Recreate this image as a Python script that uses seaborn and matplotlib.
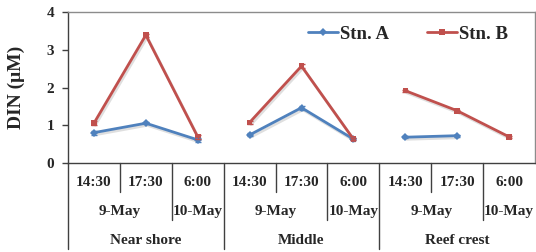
import matplotlib
matplotlib.use("Agg")
import matplotlib.pyplot as plt
import matplotlib.patheffects as pe
from matplotlib.lines import Line2D
import matplotlib.transforms as mtransforms
import seaborn as sns
import pandas as pd
import numpy as np

# --- data ---
sites = ["Near shore", "Middle", "Reef crest"]
dates = ["9-May", "9-May", "10-May"]
times = ["14:30", "17:30", "6:00"]

stn_a = [0.81, 1.06, 0.62, 0.75, 1.47, 0.64, 0.69, 0.73, np.nan]
stn_b = [1.06, 3.39, 0.70, 1.08, 2.57, 0.64, 1.92, 1.39, 0.70]
err_a = [0.05, 0.03, 0.05, 0.04, 0.05, 0.03, 0.03, 0.03, np.nan]
err_b = [0.06, 0.04, 0.05, 0.05, 0.05, 0.03, 0.03, 0.03, 0.03]

colors = {"Stn. A": "#4F81BD", "Stn. B": "#C0504D"}
markers = {"Stn. A": "D", "Stn. B": "s"}

rows = []
for st, vals, errs in [("Stn. A", stn_a, err_a), ("Stn. B", stn_b, err_b)]:
    for k, (v, e) in enumerate(zip(vals, errs)):
        rows.append({"site": sites[k // 3], "time": times[k % 3], "pos": k,
                     "station": st, "DIN": v, "err": e})
df = pd.DataFrame(rows).dropna()

sns.set_style("white")
plt.rcParams["font.family"] = ["Liberation Serif", "DejaVu Serif"]
plt.rcParams["font.weight"] = "bold"

fig = plt.figure(figsize=(5.36, 2.52), dpi=100)
W, H = 536, 252
x0, x1, y0, y1 = 68, 535, 163.3, 12
ax = fig.add_axes([x0 / W, 1 - y0 / H, (x1 - x0) / W, (y0 - y1) / H])

shadow = [pe.SimpleLineShadow(offset=(1, -1.5), alpha=0.25, shadow_color="gray"), pe.Normal()]
sns.lineplot(data=df, x="pos", y="DIN", hue="station", style="station", units="site",
             estimator=None, markers=markers, dashes=False, palette=colors,
             linewidth=2, markersize=4, markeredgewidth=0, legend=False, ax=ax,
             path_effects=shadow)

for st in ["Stn. A", "Stn. B"]:
    sub = df[df["station"] == st]
    ax.errorbar(sub["pos"], sub["DIN"], yerr=sub["err"], fmt="none",
                ecolor=colors[st], elinewidth=1, capsize=2.5, capthick=1)

ax.set_xlim(-0.5, 8.5)
ax.set_ylim(0, 4)
ax.set_yticks([0, 1, 2, 3, 4])
ax.set_xticks([])
ax.set_xlabel("")
ax.tick_params(axis="y", which="both", left=True, direction="out", length=4,
               width=1, labelsize=11, pad=6, color="#404040")
for lbl in ax.get_yticklabels():
    lbl.set_fontweight("bold")
ax.set_ylabel("DIN (\u03bcM)", fontsize=14, fontweight="bold")
ax.yaxis.set_label_coords(-0.092, 0.5)

for s in ["left", "bottom"]:
    ax.spines[s].set_color("#404040")
    ax.spines[s].set_linewidth(1)
for s in ["top", "right"]:
    ax.spines[s].set_color("#8C8C8C")
    ax.spines[s].set_linewidth(1)

# --- multi-level category axis ---
ph = y0 - y1
def fy(px):
    return -(px - y0) / ph

trans = mtransforms.blended_transform_factory(ax.transData, ax.transAxes)
for k in range(9):
    ax.text(k, fy(182), times[k % 3], transform=trans, ha="center", va="center",
            fontsize=11, fontweight="bold")
for g, site in enumerate(sites):
    ax.text(g * 3 + 0.5, fy(212), dates[0], transform=trans, ha="center", va="center",
            fontsize=11, fontweight="bold")
    ax.text(g * 3 + 2, fy(212), dates[2], transform=trans, ha="center", va="center",
            fontsize=11, fontweight="bold")
    ax.text(g * 3 + 1, fy(240), site, transform=trans, ha="center", va="center",
            fontsize=11, fontweight="bold")

for k in range(9):
    xb = k - 0.5
    if k % 3 == 0:
        bottom = fy(249)
    elif k % 3 == 1:
        bottom = fy(192)
    else:
        bottom = fy(220)
    ax.plot([xb, xb], [0, bottom], transform=trans, color="#404040", lw=1,
            clip_on=False)

handles = [Line2D([], [], color=colors[st], marker=markers[st], markersize=4,
                  markeredgewidth=0, lw=2) for st in ["Stn. A", "Stn. B"]]
ax.legend(handles, ["Stn. A", "Stn. B"], loc="center", bbox_to_anchor=(0.728, 0.855),
          ncol=2, frameon=False, handlelength=1.6, handletextpad=0.1,
          columnspacing=2.0, prop={"size": 13.5, "weight": "bold"})

fig.savefig("out.png", dpi=100)
